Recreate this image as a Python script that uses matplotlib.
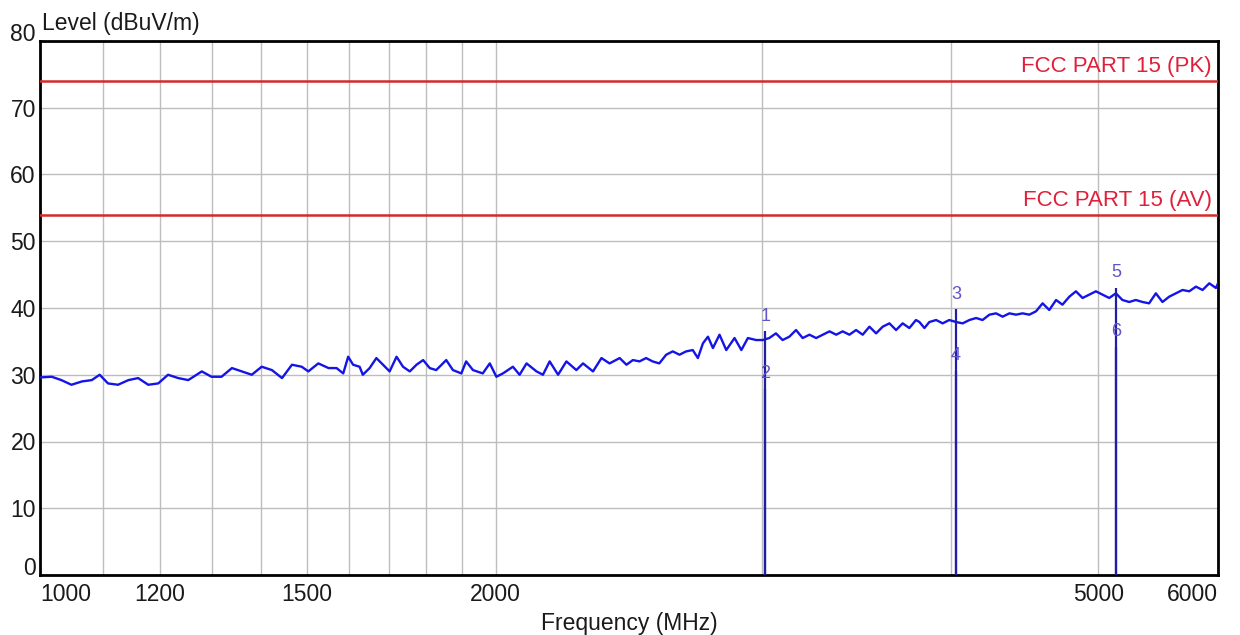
import matplotlib
matplotlib.use('Agg')
import matplotlib.pyplot as plt
from matplotlib.ticker import FixedLocator, NullFormatter

plt.rcParams['font.family'] = ['Liberation Sans', 'DejaVu Sans']

# 扫描数据: 频率 (MHz) 与电平 (dBuV/m)
freq_mhz = [
    1000, 1018, 1033, 1049, 1066, 1082, 1095, 1109, 1126, 1144,
    1161, 1179, 1197, 1215, 1234, 1253, 1279, 1298, 1318, 1339,
    1359, 1380, 1401, 1423, 1445, 1467, 1489, 1504, 1527, 1551,
    1570, 1586, 1598, 1610, 1626, 1634, 1651, 1668, 1685, 1702,
    1720, 1737, 1755, 1773, 1791, 1809, 1827, 1855, 1874, 1898,
    1912, 1932, 1961, 1982, 2002, 2022, 2053, 2074, 2096, 2128,
    2149, 2171, 2199, 2227, 2261, 2284, 2319, 2349, 2378,
    2415, 2440, 2464, 2489, 2514, 2539, 2565, 2592, 2618, 2645,
    2672, 2699, 2720, 2741, 2762, 2783, 2811, 2840, 2876, 2906,
    2935, 2972, 3002, 3032, 3063, 3094, 3126, 3158, 3190, 3223,
    3256, 3289, 3323, 3357, 3390, 3425, 3460, 3495, 3531, 3567,
    3603, 3640, 3677, 3714, 3752, 3790,
    3810, 3839, 3868, 3908, 3947, 3987, 4028, 4069, 4111, 4153,
    4194, 4238, 4281, 4324, 4369, 4413, 4457, 4503, 4549, 4595,
    4642, 4690, 4736, 4786, 4834, 4883, 4933, 4983, 5034, 5085,
    5137, 5188, 5242, 5295, 5349, 5403, 5459, 5514, 5571, 5627,
    5685, 5743, 5802, 5861, 5921, 5981, 6000,
]
level_dbuv = [
    29.6, 29.7, 29.2, 28.5, 29.0, 29.2, 30.0, 28.7, 28.5, 29.2,
    29.5, 28.5, 28.7, 30.0, 29.5, 29.2, 30.5, 29.7, 29.7, 31.0,
    30.5, 30.0, 31.2, 30.7, 29.5, 31.5, 31.2, 30.5, 31.7, 31.0,
    31.0, 30.2, 32.7, 31.5, 31.2, 30.0, 31.0, 32.5, 31.5, 30.5,
    32.7, 31.2, 30.5, 31.5, 32.2, 31.0, 30.7, 32.2, 30.7, 30.2,
    32.0, 30.7, 30.2, 31.7, 29.7, 30.2, 31.2, 30.0, 31.7, 30.5,
    30.0, 32.0, 30.0, 32.0, 30.7, 31.7, 30.5, 32.5, 31.7,
    32.5, 31.5, 32.2, 32.0, 32.5, 32.0, 31.7, 33.0, 33.5, 33.0,
    33.5, 33.7, 32.5, 34.7, 35.7, 34.0, 36.0, 33.7, 35.5, 33.7,
    35.5, 35.2, 35.2, 35.5, 36.2, 35.2, 35.7, 36.7, 35.5, 36.0,
    35.5, 36.0, 36.5, 36.0, 36.5, 36.0, 36.7, 36.0, 37.2, 36.2,
    37.2, 37.7, 36.7, 37.7, 37.0, 38.2,
    37.9, 37.0, 37.9, 38.2, 37.7, 38.2, 37.9, 37.7, 38.2, 38.5,
    38.2, 39.0, 39.2, 38.7, 39.2, 39.0, 39.2, 39.0, 39.5, 40.7,
    39.7, 41.2, 40.5, 41.7, 42.5, 41.5, 42.0, 42.5, 42.0, 41.5,
    42.2, 41.2, 40.9, 41.2, 40.9, 40.7, 42.2, 40.9, 41.7, 42.2,
    42.7, 42.5, 43.2, 42.7, 43.7, 43.0, 43.7,
]

# 限值线
limit_names = ['FCC PART 15 (PK)', 'FCC PART 15 (AV)']
limit_levels = [74, 54]

# 标记点 (奇数=峰值, 偶数=平均值)
marker_ids = ['1', '2', '3', '4', '5', '6']
marker_freq = [3013, 3013, 4028, 4028, 5137, 5137]
marker_level = [36.5, 27.9, 39.8, 30.6, 43.0, 34.2]

# 坐标轴刻度
x_tick_vals = [1000, 1200, 1500, 2000, 5000, 6000]
x_grid_vals = [1100, 1300, 1400, 1600, 1700, 1800, 1900, 3000, 4000]
y_tick_vals = [0, 10, 20, 30, 40, 50, 60, 70, 80]

fig = plt.figure(figsize=(12.4, 6.35), dpi=100)
ax = fig.add_axes([40 / 1240, 1 - 575 / 635, 1178 / 1240, 534 / 635])

ax.set_xscale('log')
ax.set_xlim(1000, 6000)
ax.set_ylim(0, 80)

# 网格
ax.xaxis.set_major_locator(FixedLocator(x_tick_vals))
ax.xaxis.set_minor_locator(FixedLocator(x_grid_vals))
ax.xaxis.set_minor_formatter(NullFormatter())
ax.set_xticklabels([str(v) for v in x_tick_vals])
ax.set_yticks(y_tick_vals)
ax.grid(True, which='both', color='#bdbdbd', linewidth=1.0)
ax.set_axisbelow(True)
ax.tick_params(which='both', length=0, labelsize=16.5, colors='#1a1a1a')
ax.tick_params(axis='x', pad=6)
ax.tick_params(axis='y', pad=3)

xlabels = ax.get_xticklabels()
xlabels[0].set_ha('left')
xlabels[-1].set_ha('right')
ylabels = ax.get_yticklabels()
ylabels[0].set_va('baseline')
ylabels[-1].set_va('baseline')

for spine in ax.spines.values():
    spine.set_linewidth(2)
    spine.set_color('black')

# 限值线与标签
for name, lim in zip(limit_names, limit_levels):
    ax.axhline(lim, color='#d42a2a', linewidth=1.8, zorder=3)
    ax.annotate(name, xy=(0.995, lim), xycoords=('axes fraction', 'data'),
                xytext=(0, 4), textcoords='offset pixels',
                ha='right', va='bottom', color='#e0203a', fontsize=16)

# 扫描曲线
ax.plot(freq_mhz, level_dbuv, color='#1414e6', linewidth=1.7, zorder=4)

# 标记竖线与编号
ax.vlines(marker_freq, 0, marker_level, color='#1e1ea8', linewidth=1.6, zorder=5)
for mid, f, lvl in zip(marker_ids, marker_freq, marker_level):
    ax.annotate(mid, xy=(f, lvl), xytext=(0, 15), textcoords='offset pixels',
                ha='center', va='center', color='#6055c8', fontsize=13, zorder=6)

# 轴标题
ax.annotate('Level (dBuV/m)', xy=(0.0, 1.0), xycoords='axes fraction',
            xytext=(2, 6), textcoords='offset pixels',
            ha='left', va='bottom', fontsize=16.5, color='#1a1a1a')
ax.set_xlabel('Frequency (MHz)', fontsize=16.5, color='#1a1a1a', labelpad=4)

fig.savefig('out.png', dpi=100, facecolor='white')
